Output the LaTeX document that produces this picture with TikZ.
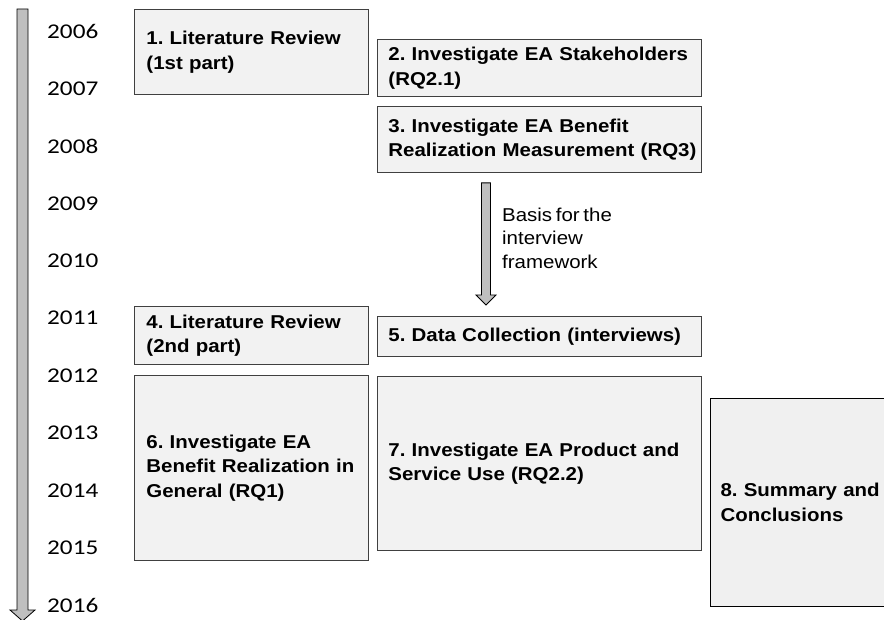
\documentclass[tikz,border=0pt]{standalone}
\usepackage{fontspec}
\setmainfont{Liberation Sans}
\newfontfamily\boxfont[FakeStretch=1.1,WordSpace=0.65]{Liberation Sans}
\newfontfamily\yearfont[FakeStretch=1.2]{Carlito}
\frenchspacing
\usetikzlibrary{calc}

\tikzset{
  stage/.style={draw=black!75,fill=black!5,line width=0.9pt,anchor=north west,
    align=left,inner xsep=11pt,inner ysep=0pt,
    font=\boxfont\bfseries\fontsize{18.6}{24.5}\selectfont},
  year/.style={anchor=west,inner sep=0pt,font=\yearfont\fontsize{21}{25}\selectfont},
  note/.style={anchor=west,align=left,inner sep=0pt,
    font=\boxfont\fontsize{18.6}{23.5}\selectfont},
  arrowbody/.style={draw=black,fill=black!25,line width=0.8pt,line join=miter}
}
% #1 from, #2 tip, #3 half shaft, #4 half head, #5 head length
\newcommand{\blockarrow}[5]{%
  \draw[arrowbody] let \p1=(#1), \p2=(#2) in
    (\x1-#3,\y1) -- (\x1+#3,\y1) -- (\x1+#3,\y2+#5) -- (\x1+#4,\y2+#5)
    -- (\x2,\y2) -- (\x1-#4,\y2+#5) -- (\x1-#3,\y2+#5) -- cycle;}

\begin{document}
\begin{tikzpicture}[x=1pt,y=-1pt]
  \useasboundingbox (0,0) rectangle (884,620);
  \clip (0,0) rectangle (884,620);
  % time line
  \coordinate (tlTop) at (22.5,9);
  \coordinate (tlTip) at (22.5,621);
  \blockarrow{tlTop}{tlTip}{5.5pt}{12.5pt}{11pt}
  \foreach \yr [count=\i from 0] in {2006,...,2016}
    \node[year] (y\yr) at (47,{31.5+57.35*\i}) {\yr};
  % stages
  \node[stage,inner xsep=12pt,text width=210pt,minimum height=85pt] (lit1) at (134,9)
    {1. Literature Review\\(1st part)};
  \node[stage,text width=302pt,minimum height=57pt] (stake) at (377,39)
    {2. Investigate EA Stakeholders\\(RQ2.1)};
  \node[stage,text width=302pt,minimum height=66pt] (measure) at (377,106)
    {3. Investigate EA Benefit\\\mbox{Realization Measurement (RQ3)}};
  \node[stage,inner xsep=12pt,text width=210pt,minimum height=58pt] (lit2) at (134,306)
    {4. Literature Review\\(2nd part)};
  \node[stage,text width=302pt,minimum height=40pt] (data) at (377,316)
    {5. Data Collection (interviews)};
  \node[stage,inner xsep=12pt,text width=210pt,minimum height=185pt] (general) at (134,375)
    {6. Investigate EA\\Benefit Realization in\\General (RQ1)};
  \node[stage,text width=302pt,minimum height=174pt] (product) at (377,376)
    {7. Investigate EA Product and\\Service Use (RQ2.2)};
  \node[stage,draw=black,line width=1.2pt,fill=black!6,inner xsep=10pt,
    text width=200pt,minimum height=208pt] (summary) at (710,398)
    {8. Summary and\\Conclusions};
  % basis arrow
  \coordinate (basisTop) at ($(measure.south)+(-53.5,10)$);
  \coordinate (basisTip) at ($(data.north)+(-53.5,-11)$);
  \blockarrow{basisTop}{basisTip}{4.5pt}{10pt}{10pt}
  \node[note] (basis) at (502,238) {Basis for the\\interview\\framework};
\end{tikzpicture}
\end{document}
